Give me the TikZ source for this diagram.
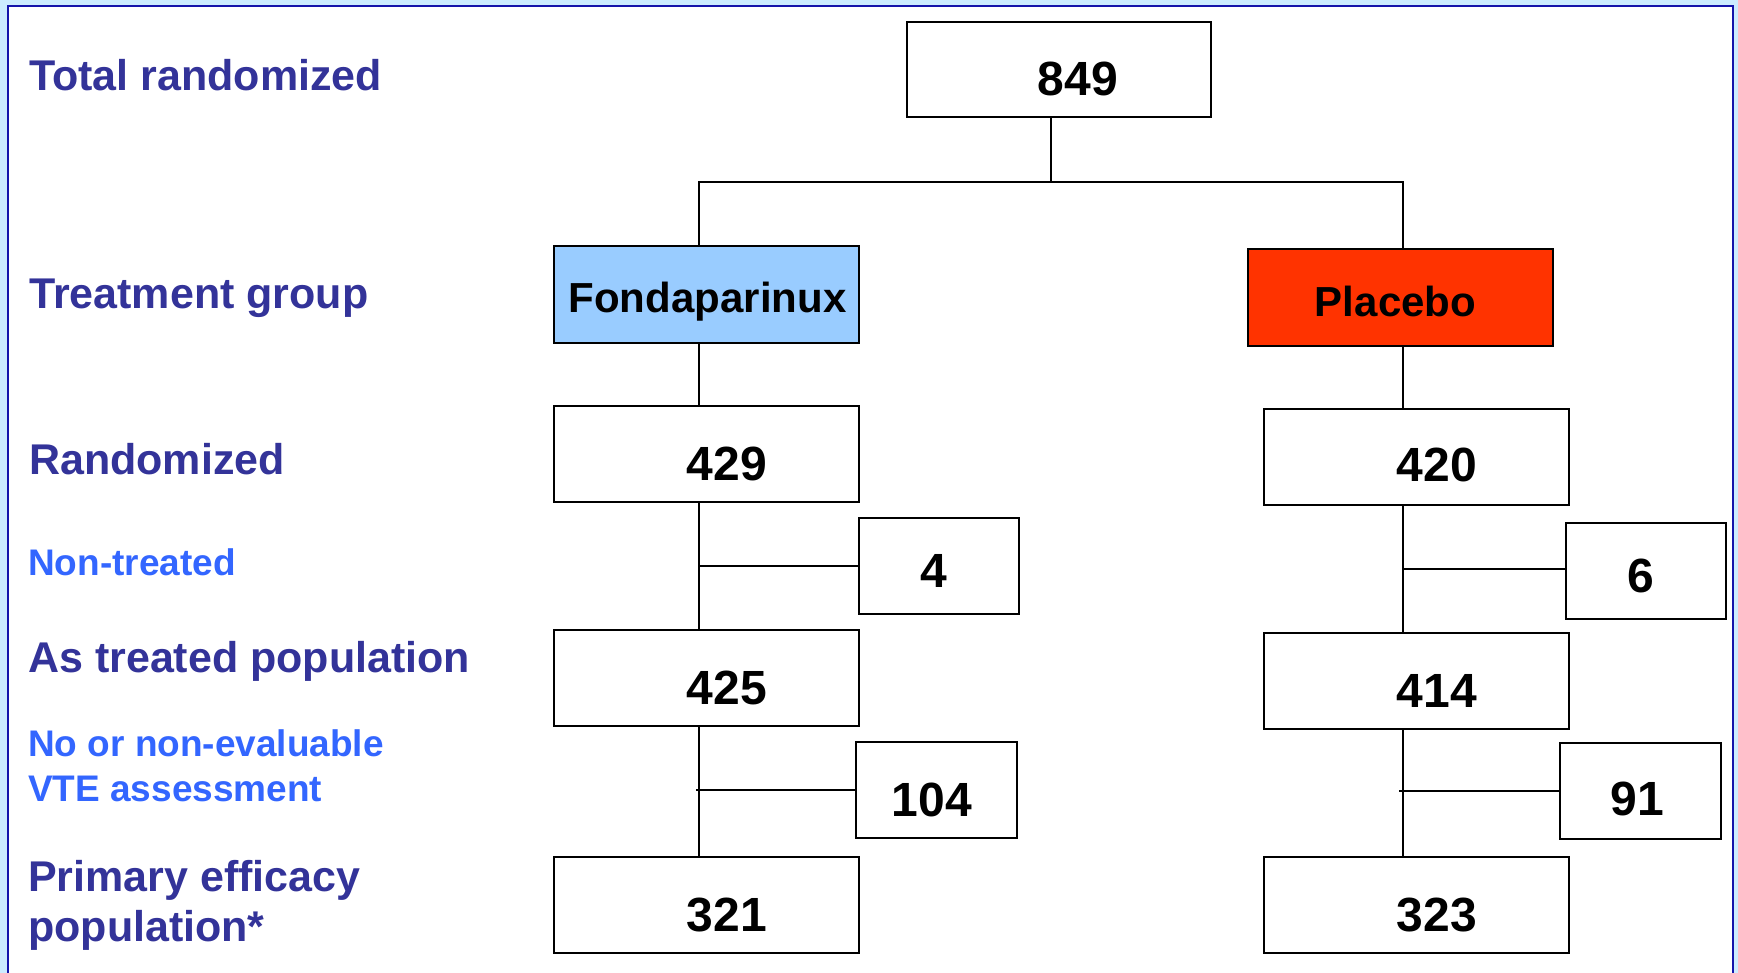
\documentclass[tikz,border=0pt]{standalone}
\usepackage{fontspec}
\setmainfont{Liberation Sans}
\definecolor{bgblue}{RGB}{204,236,255}
\definecolor{framec}{RGB}{20,20,170}
\definecolor{lbldark}{RGB}{51,51,153}
\definecolor{lbllight}{RGB}{51,102,255}
\definecolor{fondac}{RGB}{153,204,255}
\definecolor{placc}{RGB}{255,51,0}
\begin{document}
\begin{tikzpicture}[x=1pt,y=-1pt,
  boxst/.style={draw=black, line width=2pt, fill=white, inner sep=0pt},
  bigbox/.style={boxst, minimum width=305pt, minimum height=96pt},
  smallbox/.style={boxst, minimum width=160pt, minimum height=96pt},
  numst/.style={inner sep=0pt, anchor=base, font=\fontsize{48}{56}\selectfont\bfseries},
  grpst/.style={inner sep=0pt, anchor=base, font=\fontsize{42}{50}\selectfont\bfseries},
  darklbl/.style={inner sep=0pt, anchor=base west, text=lbldark, font=\fontsize{43}{50}\selectfont\bfseries},
  lightlbl/.style={inner sep=0pt, anchor=base west, text=lbllight, font=\fontsize{37}{44}\selectfont\bfseries},
  conn/.style={draw=black, line width=2pt}]
\useasboundingbox (0,0) rectangle (1738,973);
\fill[bgblue] (0,0) rectangle (1738,973);
\draw[fill=white, draw=framec, line width=2.5pt] (8,6) rectangle (1733,990);

% boxes
\node[boxst, minimum width=304pt, minimum height=95pt] (b849) at (1059,69.75) {};
\node[bigbox, fill=fondac, minimum height=97pt] (bfon) at (706.5,294.5) {};
\node[bigbox, fill=placc, minimum height=97pt] (bpla) at (1400.5,297.5) {};
\node[bigbox] (b429) at (706.5,454) {};
\node[bigbox] (b420) at (1416.5,457) {};
\node[smallbox] (b4) at (939,566) {};
\node[smallbox] (b6) at (1646,571) {};
\node[bigbox] (b425) at (706.5,678) {};
\node[bigbox] (b414) at (1416.5,681) {};
\node[smallbox, minimum width=161pt] (b104) at (936.5,790) {};
\node[smallbox, minimum width=161pt] (b91) at (1640.5,790.5) {};
\node[bigbox] (b321) at (706.5,905) {};
\node[bigbox] (b323) at (1416.5,905) {};

% box texts
\node[numst] (t849) at (1078,96) {849};
\node[grpst] (tfon) at (707.5,313) {Fondaparinux};
\node[grpst] (tpla) at (1395.5,317) {Placebo};
\node[numst] (t429) at (727,480) {429};
\node[numst] (t420) at (1437,482) {420};
\node[numst] (t4) at (934,587) {4};
\node[numst] (t6) at (1641,592) {6};
\node[numst] (t425) at (727,704) {425};
\node[numst] (t414) at (1437,707) {414};
\node[numst] (t104) at (932,816) {104};
\node[numst] (t91) at (1637,815) {91};
\node[numst] (t321) at (727,931) {321};
\node[numst] (t323) at (1437,931) {323};

% connectors
\coordinate (jt) at (1051,182);
\coordinate (jl) at (699,182);
\coordinate (jr) at (1403,182);
\draw[conn] (b849.south -| jt) -- (jt);
\draw[conn] (jl |- bfon.north) -- (jl) -- (jr) -- (jr |- bpla.north);
\draw[conn] (bfon.south -| jl) -- (b429.north -| jl);
\draw[conn] (b429.south -| jl) -- (b425.north -| jl);
\draw[conn] (b425.south -| jl) -- (b321.north -| jl);
\draw[conn] (b4.west -| jl) -- (b4.west);
\draw[conn] ([xshift=-3pt]b104.west -| jl) -- (b104.west);
\draw[conn] (bpla.south -| jr) -- (b420.north -| jr);
\draw[conn] (b420.south -| jr) -- (b414.north -| jr);
\draw[conn] (b414.south -| jr) -- (b323.north -| jr);
\draw[conn] ([yshift=2pt]b6.west -| jr) -- ([yshift=2pt]b6.west);
\draw[conn] ([xshift=-4pt]b91.west -| jr) -- (b91.west);

% left labels
\node[darklbl] (l1) at (29,91) {Total randomized};
\node[darklbl] (l2) at (29,309) {Treatment group};
\node[darklbl] (l3) at (29,474) {Randomized};
\node[lightlbl] (l4) at (28,575) {Non-treated};
\node[darklbl] (l5) at (28,672) {As treated population};
\node[lightlbl] (l6a) at (28,756) {No or non-evaluable};
\node[lightlbl] (l6b) at (28,801) {VTE assessment};
\node[darklbl] (l7a) at (28,891) {Primary efficacy};
\node[darklbl] (l7b) at (28,941) {population*};
\end{tikzpicture}
\end{document}
